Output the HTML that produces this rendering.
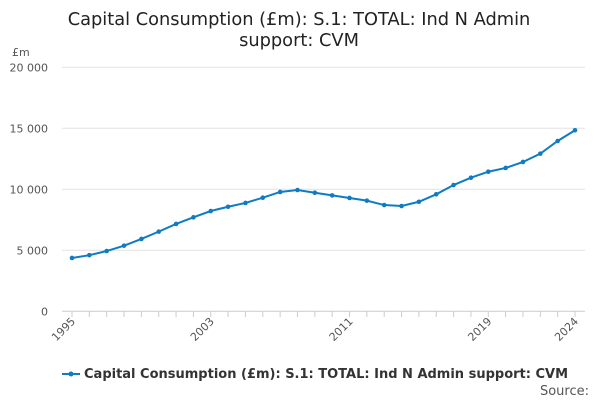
<!DOCTYPE html>
<html><head><meta charset="utf-8"><style>
body{margin:0;background:#fff;font-family:"Liberation Sans","DejaVu Sans",sans-serif;}
svg text{font-family:"DejaVu Sans","Liberation Sans",sans-serif;}
</style></head><body>
<svg id="c" width="600" height="400" xmlns="http://www.w3.org/2000/svg">
<text x="299" y="25" text-anchor="middle" font-size="17.8" fill="#222">Capital Consumption (£m): S.1: TOTAL: Ind N Admin</text>
<text x="299" y="46" text-anchor="middle" font-size="17.8" fill="#222">support: CVM</text>
<text x="12" y="56" font-size="11" fill="#555">£m</text>
<g id="grid"></g><g id="xt"></g><g id="ser"></g>
<g>
<line x1="62" y1="374" x2="80" y2="374" stroke="#0f7bc2" stroke-width="2"/><circle cx="71" cy="374" r="2.5" fill="#0f7bc2"/>
<text x="84" y="378" font-size="13" font-weight="bold" fill="#333">Capital Consumption (£m): S.1: TOTAL: Ind N Admin support: CVM</text>
</g>
<text x="589" y="395" text-anchor="end" font-size="13" fill="#555">Source:</text>
</svg>
<script>
const years=[1995,1996,1997,1998,1999,2000,2001,2002,2003,2004,2005,2006,2007,2008,2009,2010,2011,2012,2013,2014,2015,2016,2017,2018,2019,2020,2021,2022,2023,2024];
const values=[4370,4600,4940,5380,5930,6530,7160,7700,8220,8570,8880,9310,9780,9940,9720,9500,9290,9070,8710,8630,8980,9590,10350,10950,11440,11750,12240,12920,13960,14840];
const yTicks=[0,5000,10000,15000,20000];
const yTickLabels=["0","5 000","10 000","15 000","20 000"];
const xTickYears=[1995,2003,2011,2019,2024];
const NS="http://www.w3.org/2000/svg";
const x=y=>72+(y-1995)*(575-72)/29;
const yy=v=>311.3-v*(311.3-67.3)/20000;
function mk(t,a,p){const e=document.createElementNS(NS,t);for(const k in a)e.setAttribute(k,a[k]);p.appendChild(e);return e;}
const g=document.getElementById('grid');
yTicks.forEach((v,i)=>{
 const l=mk('line',{x1:62,x2:585,y1:yy(v),y2:yy(v),stroke:v===0?'#ccc':'#e2e2e2'},g);
 
 
 const t=mk('text',{x:48,y:yy(v)+4,'text-anchor':'end','font-size':11,fill:'#555'},g);
 t.textContent=yTickLabels[i];
 
 
});
const xt=document.getElementById('xt');
years.forEach(yr=>{
 const l=mk('line',{x1:x(yr),x2:x(yr),y1:311,y2:317,stroke:'#ccc'},xt);
 
 
});
xTickYears.forEach(yr=>{
 const t=mk('text',{x:x(yr)+4,y:322,'text-anchor':'end','font-size':11,fill:'#555',transform:`rotate(-45 ${x(yr)+4} 322)`},xt);
 t.textContent=yr;
 
 
});
const s=document.getElementById('ser');
const p=mk('polyline',{points:years.map((yr,i)=>x(yr)+','+yy(values[i])).join(' '),fill:'none',stroke:'#0f7bc2','stroke-width':2},s);


years.forEach((yr,i)=>{
 const c=mk('circle',{cx:x(yr),cy:yy(values[i]),r:2.3,fill:'#0f7bc2'},s);
 
 
});
</script>
</body></html>
